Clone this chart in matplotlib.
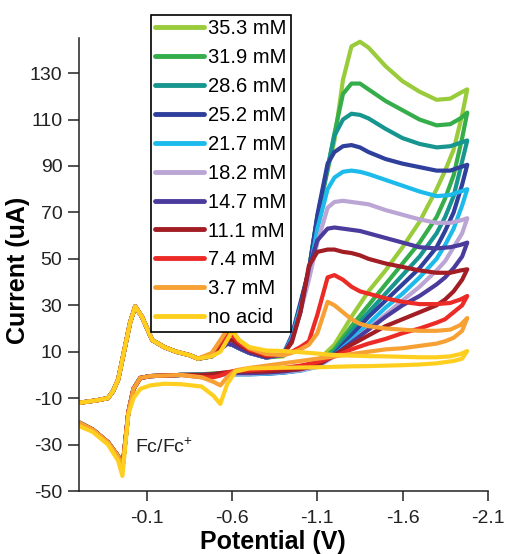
import matplotlib
matplotlib.use("Agg")
import matplotlib.pyplot as plt

plt.rcParams["font.family"] = ["Liberation Sans", "DejaVu Sans"]
plt.rcParams["mathtext.fontset"] = "custom"
plt.rcParams["mathtext.rm"] = "Liberation Sans"

# Ferrocene wave, shared by all scans
fc_fwd_v = [0.30, 0.20, 0.13, 0.10, 0.07, 0.03, 0.00, -0.03, -0.07, -0.13, -0.20, -0.27, -0.35]
fc_fwd_i = [-12, -11, -10, -7, -2, 12, 22.5, 29.5, 25, 15, 12, 10, 8.5]
fc_rev_v = [-0.30, -0.20, -0.12, -0.06, -0.02, 0.01, 0.03, 0.045, 0.07, 0.13, 0.22, 0.30]
fc_rev_acid = [0, -0.3, -0.5, -1.3, -6, -16, -30, -40.5, -35, -29, -23.5, -20.5]
fc_rev_noacid = [-4, -3.8, -4.5, -6, -10, -17, -32, -43.5, -37, -30, -24.5, -22]

# forward (cathodic) scan potentials and currents, uA
fwd_v = [-0.40, -0.48, -0.53, -0.57, -0.60, -0.64, -0.70, -0.80, -0.90, -0.95, -1.00, -1.05, -1.10,
         -1.16, -1.20, -1.25, -1.30, -1.35, -1.40, -1.50, -1.60, -1.70, -1.80, -1.88, -1.94, -1.98]
fwd_353 = [7, 8, 11, 13.5, 13, 11.5, 9.5, 7.5, 8, 15, 30, 45, 68, 88, 101, 127, 141.5, 143.5, 141, 133, 126.5, 122, 118.5, 119, 121.5, 123]
fwd_319 = [7, 8, 11, 13.5, 13, 11.5, 9.5, 7.5, 8.5, 16, 30, 45, 68, 89, 104, 121, 125.5, 125.5, 123, 118, 114, 110, 107.5, 108, 110.5, 113]
fwd_286 = [7, 8, 11, 13.5, 13, 11.5, 9.5, 7.5, 8.5, 16, 30, 45, 68, 89, 103, 110, 112.5, 112, 110.5, 106, 102, 99.5, 98, 98.5, 100, 101]
fwd_252 = [7, 8, 11, 13.5, 13, 11.5, 9.5, 7.5, 9, 17, 31, 45, 69, 91, 96, 98.5, 99, 98, 96, 93, 91, 89.5, 88, 88, 89.5, 90.5]
fwd_217 = [7, 8, 11, 13.5, 13, 11.5, 9.5, 7.5, 9, 16, 29, 43, 63, 80, 85, 87.5, 88, 87.5, 86.5, 84, 81.5, 79, 77, 77.5, 79, 80]
fwd_182 = [7, 8, 11, 13.5, 13, 11.5, 9.5, 7.5, 9, 15, 27, 41, 57, 72, 74.5, 75, 74.5, 74, 73.5, 71, 69, 67, 65.5, 65.5, 66.5, 67.5]
fwd_147 = [7, 8, 11, 13.5, 13, 11.5, 9.5, 7.5, 9, 15, 27, 46, 58, 63, 63.5, 63, 62.5, 62, 61, 59, 57, 55, 54.5, 55, 56, 57]
fwd_111 = [7, 8.5, 12, 15, 15, 13, 10.5, 8, 9, 14, 27, 47, 53, 54, 54, 53, 52.5, 51.5, 50, 48, 46.5, 45, 44, 44, 45, 45.5]
fwd_74 = [7, 9, 14, 17.5, 17, 14, 11, 8.5, 8.5, 10, 12, 14.5, 26, 42, 43, 41, 38, 36, 35, 33, 31.5, 30.5, 30.5, 31, 32.5, 34]
fwd_37 = [7, 9.5, 15, 19.5, 19, 15, 11.5, 9, 8.5, 9.5, 11, 13, 18, 31.5, 30, 27, 24, 22, 21, 20, 19.5, 19, 19, 19.5, 21.5, 24.5]
fwd_0 = [7, 8, 10, 15, 19, 15, 12, 10.5, 10.3, 10, 9.8, 9.5, 9.2, 8.8, 8.6, 8.4, 8.3, 8.2, 8.1, 8, 7.8, 7.6, 7.6, 8, 9, 10.3]

# return (anodic) scan
rev_v = [-1.98, -1.95, -1.90, -1.85, -1.80, -1.70, -1.60, -1.50, -1.40, -1.30, -1.20,
         -1.10, -1.00, -0.90, -0.80, -0.70, -0.62, -0.57, -0.53, -0.49, -0.42]
rev_353 = [123, 112, 97, 88, 80, 66, 55, 45, 36, 25, 13, 6, 3, 2, 1.5, 1, 1, 1, 0.8, 0.6, 0.3]
rev_319 = [113, 102, 86, 76, 68, 57, 48, 39, 30, 21, 11, 5, 2.5, 1.5, 1, 0.8, 0.8, 0.8, 0.6, 0.5, 0.3]
rev_286 = [101, 92, 77, 68, 61, 51, 43, 35, 27, 19, 10, 4.5, 2, 1.2, 0.8, 0.5, 0.5, 0.5, 0.5, 0.4, 0.2]
rev_252 = [90.5, 82, 70, 62, 55, 46, 39, 32, 25, 17, 9, 4, 2, 1, 0.5, 0.3, 0.3, 0.3, 0.3, 0.2, 0]
rev_217 = [80, 73, 63, 56, 50, 42, 35, 29, 22, 15, 8.5, 3.5, 1.8, 1, 0.5, 0.3, 0.3, 0.3, 0.3, 0.2, 0]
rev_182 = [67.5, 61, 55, 49, 45, 38, 32, 26, 20, 14, 8, 3.5, 2, 1.2, 0.8, 0.5, 0.5, 0.5, 0.4, 0.3, 0]
rev_147 = [57, 51, 46, 42, 39, 34, 30, 25, 19.5, 14, 8.5, 4, 2.5, 1.5, 1, 0.8, 0.8, 0.8, 0.6, 0.4, 0]
rev_111 = [45.5, 41, 36, 32.5, 30, 27, 24, 21, 17, 13, 8.5, 4.5, 2.5, 2, 1.5, 1.5, 1.5, 1.2, 0.8, 0.3, 0]
rev_74 = [34, 30, 27, 24, 22.5, 20, 18, 15.5, 13.5, 11, 8, 5.5, 4, 3, 2.5, 2, 1.8, 1, -0.3, -1, -1]
rev_37 = [24.5, 19, 16, 14.5, 13.5, 12.5, 11.5, 11, 10, 9, 8, 7, 6, 5, 4, 3, 2, -1, -4.5, -3, -1]
rev_0 = [10.3, 7, 6, 5.5, 5, 4.5, 4.2, 4, 3.8, 3.7, 3.5, 3.3, 3.2, 3.1, 3, 2.8, 1.5, -4, -12.5, -9, -5]

labels = ["35.3 mM", "31.9 mM", "28.6 mM", "25.2 mM", "21.7 mM", "18.2 mM",
          "14.7 mM", "11.1 mM", "7.4 mM", "3.7 mM", "no acid"]
colors = ["#9acb3b", "#34ad4a", "#17968f", "#2f3f9c", "#1cbbeb", "#bba5d4",
          "#4a3b9d", "#a21e24", "#ec2a26", "#f7a134", "#ffcf1f"]
fwd_all = [fwd_353, fwd_319, fwd_286, fwd_252, fwd_217, fwd_182, fwd_147, fwd_111, fwd_74, fwd_37, fwd_0]
rev_all = [rev_353, rev_319, rev_286, rev_252, rev_217, rev_182, rev_147, rev_111, rev_74, rev_37, rev_0]

xticks = [-0.1, -0.6, -1.1, -1.6, -2.1]
xtick_labels = ["-0.1", "-0.6", "-1.1", "-1.6", "-2.1"]
yticks = [-50, -30, -10, 10, 30, 50, 70, 90, 110, 130]

fig = plt.figure(figsize=(5.06, 5.54), dpi=100)
ax = fig.add_axes([0.1561, 0.1137, 0.8077, 0.8172])

for lab, col, fwd, rev in zip(labels, colors, fwd_all, rev_all):
    fc_rev = fc_rev_noacid if lab == "no acid" else fc_rev_acid
    v = fc_fwd_v + fwd_v + rev_v + fc_rev_v
    i = fc_fwd_i + fwd + rev + fc_rev
    ax.plot(v, i, color=col, lw=3.0, label=lab,
            solid_joinstyle="round", solid_capstyle="round")

ax.set_xlim(0.3, -2.1)
ax.set_ylim(-50, 145)
ax.set_xticks(xticks)
ax.set_xticklabels(xtick_labels)
ax.set_yticks(yticks)
ax.set_yticklabels([str(t) for t in yticks])
ax.tick_params(labelsize=14, colors="#222222", width=1.1)
ax.tick_params(axis="y", length=8, pad=4)
ax.tick_params(axis="x", length=7, pad=7)
for s in ["top", "right"]:
    ax.spines[s].set_visible(False)
for s in ["left", "bottom"]:
    ax.spines[s].set_linewidth(1.1)
    ax.spines[s].set_color("#222222")

ax.set_xlabel("Potential (V)", fontsize=18, fontweight="bold", labelpad=2, x=0.475)
ax.set_ylabel("Current (uA)", fontsize=18, fontweight="bold", labelpad=0, y=0.487)

ax.text(-0.03, -31, "Fc/Fc$^{+}$", fontsize=14, ha="left", va="center", color="#222222")

leg = ax.legend(loc="upper left", bbox_to_anchor=(151 / 506, 1 - 15 / 554),
                bbox_transform=fig.transFigure, borderaxespad=0, fontsize=14.5,
                frameon=True, fancybox=False, framealpha=1, edgecolor="black",
                handlelength=2.4, handletextpad=0.2, labelspacing=0.49, borderpad=0.22)
leg.get_frame().set_linewidth(1.2)
for line in leg.get_lines():
    line.set_linewidth(3.5)

fig.savefig("out.png", dpi=100)
